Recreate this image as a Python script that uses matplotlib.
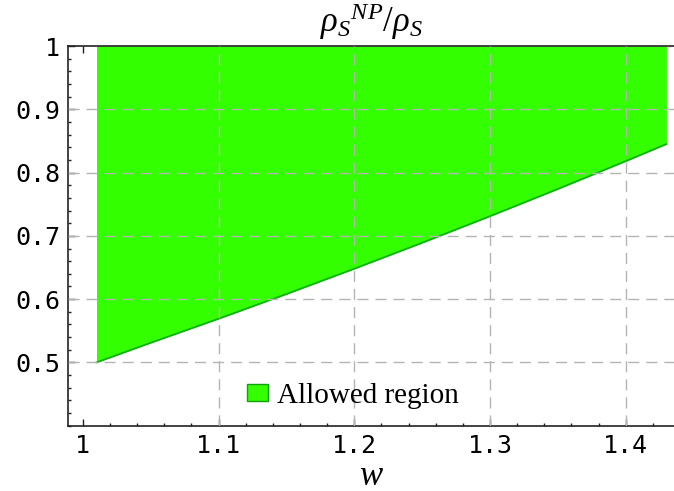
import matplotlib
matplotlib.use("Agg")
import matplotlib.pyplot as plt
from matplotlib.ticker import FixedLocator, FixedFormatter, MultipleLocator
from matplotlib.patches import Patch

# Lower boundary of the allowed region
w = [1.01, 1.05, 1.10, 1.15, 1.20, 1.25, 1.30, 1.35, 1.40, 1.43]
ratio_min = [0.500, 0.531, 0.569, 0.608, 0.648, 0.689, 0.731, 0.774, 0.818, 0.845]
ratio_max = 1.0

x_ticks = [1.0, 1.1, 1.2, 1.3, 1.4]
x_labels = ["1", "1.1", "1.2", "1.3", "1.4"]
y_ticks = [0.5, 0.6, 0.7, 0.8, 0.9, 1.0]
y_labels = ["0.5", "0.6", "0.7", "0.8", "0.9", "1"]
x_grid = [1.1, 1.2, 1.3, 1.4]
y_grid = [0.5, 0.6, 0.7, 0.8, 0.9]

plt.rcParams["mathtext.fontset"] = "custom"
plt.rcParams["mathtext.it"] = "Liberation Serif:italic"
plt.rcParams["mathtext.rm"] = "Liberation Serif"

fig = plt.figure(figsize=(6.74, 4.91), dpi=100)
ax = fig.add_axes([0.1013, 0.133, 0.8987, 0.7733])

ax.fill_between(w, ratio_min, ratio_max, color="#33ff00", linewidth=0, zorder=2)
ax.plot(w, ratio_min, color="#10b010", linewidth=1.3, zorder=3)

# dashed grid lines, drawn over the filled region
for gx in x_grid:
    ax.axvline(gx, color="#b4b4b4", linestyle=(0, (8, 5)), linewidth=1.0, zorder=4)
for gy in y_grid:
    ax.axhline(gy, color="#b4b4b4", linestyle=(0, (8, 5)), linewidth=1.0, zorder=4)

ax.set_xlim(0.9892, 1.4356)
ax.set_ylim(0.4, 1.0)

ax.xaxis.set_major_locator(FixedLocator(x_ticks))
ax.xaxis.set_major_formatter(FixedFormatter(x_labels))
ax.yaxis.set_major_locator(FixedLocator(y_ticks))
ax.yaxis.set_major_formatter(FixedFormatter(y_labels))
ax.xaxis.set_minor_locator(MultipleLocator(0.02))
ax.yaxis.set_minor_locator(MultipleLocator(0.02))

ax.tick_params(which="both", direction="in", top=True, right=False,
               color="#222222", width=1.0)
ax.tick_params(which="major", length=5, labelsize=18, pad=6)
ax.tick_params(which="minor", length=2.5)
for lab in ax.get_xticklabels() + ax.get_yticklabels():
    lab.set_family("DejaVu Sans Mono")

ax.spines["right"].set_visible(False)
for s in ["left", "bottom", "top"]:
    ax.spines[s].set_linewidth(1.2)
    ax.spines[s].set_color("#222222")

ax.set_title(r"$\rho_S{}^{NP}/\rho_S$", fontsize=25, pad=10)
ax.set_xlabel(r"$w$", fontsize=25, labelpad=0)

handle = Patch(facecolor="#33ff00", edgecolor="#10a010", linewidth=1.0)
leg = ax.legend([handle], ["Allowed region"], loc="center",
                bbox_to_anchor=(0.4705, 0.078), frameon=False,
                prop={"family": "Liberation Serif", "size": 21},
                handlelength=0.72, handleheight=0.5, handletextpad=0.32)

fig.savefig("out.png", dpi=100)
